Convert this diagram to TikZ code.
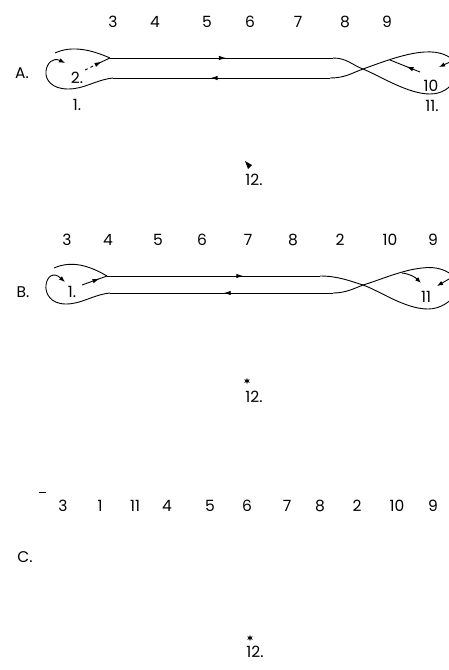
\documentclass[tikz,border=0pt]{standalone}
\usepackage{fontspec}
\newfontfamily\lbfont{Poppins}
\usetikzlibrary{arrows.meta,decorations.markings,shapes.geometric}
\begin{document}
\begin{tikzpicture}[x=1pt,y=-1pt,
  ln/.style={line width=0.9pt},
  tip/.style={-{Latex[length=6pt,width=4.5pt]}},
  lbl/.style={font=\lbfont\fontsize{15.5}{15.5}\selectfont, inner sep=0pt},
  midarrow/.style={postaction={decorate},decoration={markings, mark=at position #1 with {\arrow{Latex[length=7pt,width=4.5pt]}}}},
  starmark/.style={star, star points=6, star point ratio=2.4, fill, inner sep=0pt, minimum size=6.5pt}]
\fill[white] (0,0) rectangle (448,670);
\useasboundingbox (0,0) rectangle (448,670);

% ---------- A ----------
\foreach \t/\x in {3/113,4/155,5/207,6/250,7/298,8/345,9/387}
  \node[lbl] (a\t) at (\x,22) {\t};
\node[lbl] (aA) at (22,73) {A.};
\node[lbl] (a2) at (77,78) {2.};
\node[lbl] (a1) at (77,105) {1.};
\node[lbl] (a10) at (431,86) {10};
\node[lbl] (a11) at (432,106) {11.};
\node[lbl] (a12) at (254,180) {12.};
\fill (245,161) -- (252,165) -- (248,169) -- cycle;

\coordinate (aNT) at (110,58);
\coordinate (aNB) at (113,78);
\coordinate (aTR) at (333,58);
\coordinate (aBR) at (330,78);
\coordinate (aX) at (363,69);
\coordinate (a2s) at (85,70);
\coordinate (a2m) at (97,64);

\draw[ln, midarrow=0.52] (aNT) -- (aTR);
\draw[ln] (aTR) .. controls (347,58) and (352,65) .. (aX) .. controls (380,76) and (408,94) .. (430,94) .. controls (442,94) and (450,88) .. (455,80);
\draw[ln, midarrow=0.55] (aBR) -- (aNB);
\draw[ln] (aBR) .. controls (345,78) and (352,73) .. (aX) .. controls (380,63) and (405,53) .. (425,52) .. controls (440,51) and (450,56) .. (455,62);
\draw[ln, midarrow=0.45] (420,72) -- (390,60);
\draw[ln, tip] (450,62) -- (439,67);

\draw[ln, tip] (aNB) .. controls (95,80) and (85,89) .. (68,89) .. controls (52,89) and (45,80) .. (46,71) .. controls (47,63) and (53,57) .. (65,63);
\draw[ln] (55,53) .. controls (72,45) and (92,50) .. (aNT);
\draw[ln, dashed] (a2s) -- (a2m);
\draw[ln, midarrow=0.35] (a2m) -- (aNT);

% ---------- B ----------
\foreach \t/\x/\n in {3/67/3,4/108/4,5/158/5,6/202/6,7/248/7,8/293/8,2/340/2,10/390/10,9/433/9}
  \node[lbl] (b\n) at (\x,240) {\t};
\node[lbl] (bB) at (23,292) {B.};
\node[lbl] (b1) at (72,292) {1.};
\node[lbl] (b11) at (426,297) {11};
\node[lbl] (b12) at (254,397) {12.};
\node[starmark] (bstar) at (247,381) {};

\coordinate (bNT) at (107,276);
\coordinate (bNB) at (110,293);
\coordinate (bTR) at (320,276);
\coordinate (bBR) at (333,293);
\coordinate (bX) at (363,285);
\coordinate (b1s) at (82,285);

\draw[ln, midarrow=0.64] (bNT) -- (bTR);
\draw[ln] (bTR) .. controls (338,276) and (350,281) .. (bX) .. controls (380,291) and (405,309) .. (428,309) .. controls (440,309) and (450,302) .. (455,295);
\draw[ln, midarrow=0.49] (bBR) -- (bNB);
\draw[ln] (bBR) .. controls (345,293) and (353,289) .. (bX) .. controls (380,280) and (402,270) .. (422,268) .. controls (436,266) and (448,270) .. (455,278);
\draw[ln, tip] (402,273) .. controls (410,274) and (415,277) .. (421,283);
\draw[ln, tip] (449,279) -- (437,286);

\draw[ln, tip] (bNB) .. controls (92,295) and (82,304) .. (66,304) .. controls (50,304) and (45,293) .. (46,285) .. controls (47,277) and (53,271) .. (65,282);
\draw[ln] (54,268) .. controls (72,260) and (90,266) .. (bNT);
\draw[ln, midarrow=0.7] (b1s) -- (bNT);

% ---------- C ----------
\foreach \t/\x/\n in {3/63/3,1/100/1,11/135/11,4/167/4,5/210/5,6/247/6,7/287/7,8/320/8,2/357/2,10/397/10,9/433/9}
  \node[lbl] (c\n) at (\x,506) {\t};
\draw[ln] (39,492) -- (46,492);
\node[lbl] (cC) at (25,557) {C.};
\node[lbl] (c12) at (255,652) {12.};
\node[starmark] (cstar) at (250,638) {};
\end{tikzpicture}
\end{document}
